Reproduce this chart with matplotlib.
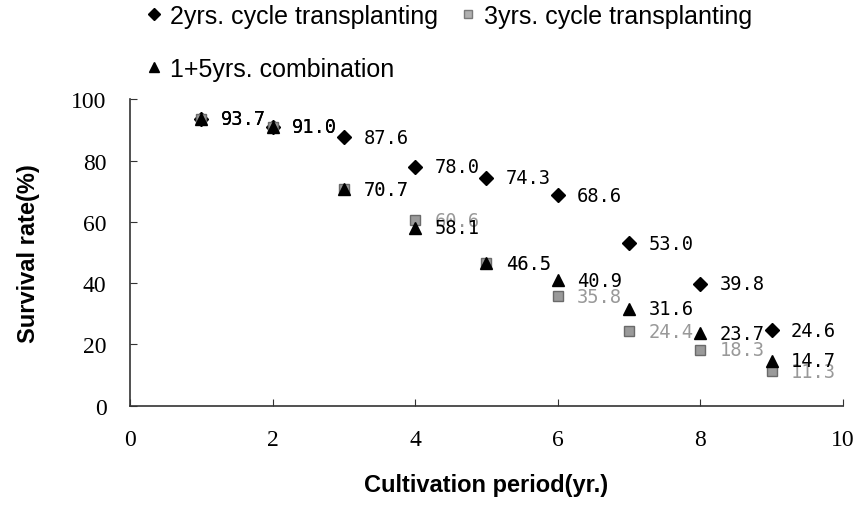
import matplotlib.pyplot as plt
from matplotlib.lines import Line2D

years = [1, 2, 3, 4, 5, 6, 7, 8, 9]
two_yr = [93.7, 91.0, 87.6, 78.0, 74.3, 68.6, 53.0, 39.8, 24.6]
three_yr = [93.7, 91.0, 70.7, 60.6, 46.5, 35.8, 24.4, 18.3, 11.3]
combo = [93.7, 91.0, 70.7, 58.1, 46.5, 40.9, 31.6, 23.7, 14.7]

names = ['2yrs. cycle transplanting', '3yrs. cycle transplanting', '1+5yrs. combination']

fig = plt.figure(figsize=(8.61, 5.06), dpi=100)
ax = fig.add_axes([0.151, 0.196, 0.828, 0.606])

ax.plot(years, two_yr, 'D', ms=7, color='black', ls='none', zorder=3)
ax.plot(years, three_yr, 's', ms=7.5, mfc='#9a9a9a', mec='#6a6a6a', ls='none', zorder=4)
ax.plot(years, combo, '^', ms=8.5, color='black', ls='none', zorder=5)

lab_font = dict(family='DejaVu Sans Mono', fontsize=13.5, va='center', ha='left')
for x, v in zip(years, three_yr):
    ax.annotate('%.1f' % v, (x, v), xytext=(14, 0), textcoords='offset points',
                color='#999999', zorder=6, **lab_font)
for x, v in zip(years, combo):
    ax.annotate('%.1f' % v, (x, v), xytext=(14, 0), textcoords='offset points',
                color='black', zorder=7, **lab_font)
for x, v in zip(years, two_yr):
    ax.annotate('%.1f' % v, (x, v), xytext=(14, 0), textcoords='offset points',
                color='black', zorder=7, **lab_font)

ax.set_xlim(0, 10)
ax.set_ylim(0, 100)
ax.set_xticks([0, 2, 4, 6, 8, 10])
ax.set_yticks([0, 20, 40, 60, 80, 100])
ax.spines['top'].set_visible(False)
ax.spines['right'].set_visible(False)
for s in ['left', 'bottom']:
    ax.spines[s].set_color('#333333')
    ax.spines[s].set_linewidth(1.2)
ax.tick_params(direction='in', length=5, color='#333333', pad=17)
for t in ax.get_xticklabels() + ax.get_yticklabels():
    t.set_fontfamily('Liberation Serif')
    t.set_fontsize(17)

ax.set_xlabel('Cultivation period(yr.)', fontfamily='Liberation Sans', fontweight='bold',
              fontsize=17, labelpad=16)
ax.set_ylabel('Survival rate(%)', fontfamily='Liberation Sans', fontweight='bold',
              fontsize=17, labelpad=22)

h1 = Line2D([], [], marker='D', ms=6, color='black', ls='none')
h2 = Line2D([], [], marker='s', ms=6, mfc='#b0b0b0', mec='#7a7a7a', ls='none')
h3 = Line2D([], [], marker='^', ms=7, color='black', ls='none')
fig.legend([h1, h3, h2], [names[0], names[2], names[1]], ncol=2,
           loc='upper left', bbox_to_anchor=(0.170, 0.990), frameon=False,
           prop={'family': 'Liberation Sans', 'size': 18},
           handlelength=0.6, handletextpad=0.35, columnspacing=0.9,
           labelspacing=1.15, borderpad=0, borderaxespad=0)

fig.savefig('out.png', dpi=100)
